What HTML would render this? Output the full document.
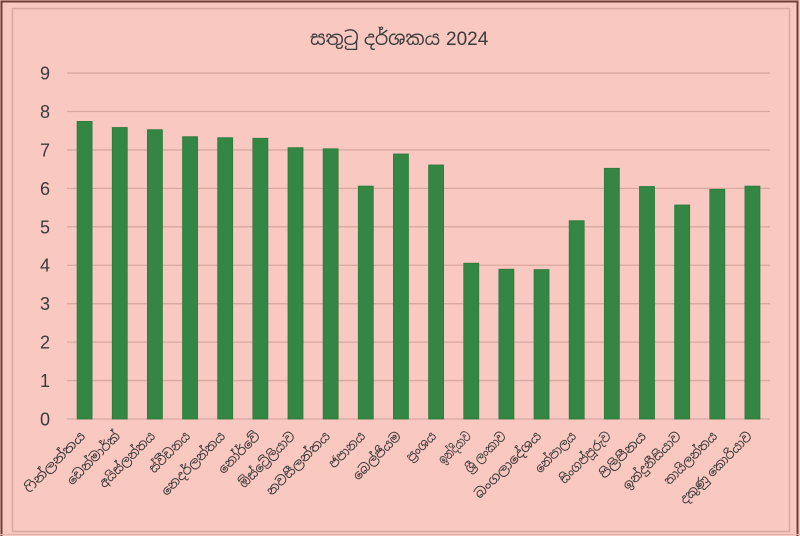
<!DOCTYPE html>
<html><head><meta charset="utf-8"><style>
html,body{margin:0;padding:0;background:#F9C8C0;}
svg{display:block;}
</style></head><body>
<svg width="800" height="536" viewBox="0 0 800 536" xmlns="http://www.w3.org/2000/svg">
<rect x="0" y="0" width="800" height="536" fill="#F9C8C0"/>
<!-- outer frame -->
<path d="M1.5 536 V1.5 H797.5 V536" fill="none" stroke="#6E4038" stroke-width="2"/>
<line x1="0" y1="534.5" x2="800" y2="534.5" stroke="#DDB0A8" stroke-width="1"/>
<!-- inner frame -->
<rect x="12.5" y="8.5" width="777" height="523" fill="none" stroke="#D8A9A1" stroke-width="1.5"/>
<!-- title -->
<text x="310" y="45" font-family="'Liberation Sans','Noto Sans Sinhala','Iskoola Pota',sans-serif" font-size="19" fill="#3A3A3A"><tspan textLength="130" lengthAdjust="spacingAndGlyphs">සතුටු දර්ශකය</tspan><tspan x="446">2024</tspan></text>
<!-- gridlines -->
<g stroke="#D9A89F" stroke-width="1.3">
<line x1="67" x2="770" y1="73.04" y2="73.04"/>
<line x1="67" x2="770" y1="111.48" y2="111.48"/>
<line x1="67" x2="770" y1="149.92" y2="149.92"/>
<line x1="67" x2="770" y1="188.36" y2="188.36"/>
<line x1="67" x2="770" y1="226.8" y2="226.8"/>
<line x1="67" x2="770" y1="265.24" y2="265.24"/>
<line x1="67" x2="770" y1="303.68" y2="303.68"/>
<line x1="67" x2="770" y1="342.12" y2="342.12"/>
<line x1="67" x2="770" y1="380.56" y2="380.56"/>
<line x1="67" x2="770" y1="419" y2="419"/>
</g>
<!-- y labels -->
<g font-family="'Liberation Sans',sans-serif" font-size="18" fill="#3A3A3A" text-anchor="end">
<text x="50" y="79.5">9</text>
<text x="50" y="118">8</text>
<text x="50" y="156.4">7</text>
<text x="50" y="194.9">6</text>
<text x="50" y="233.3">5</text>
<text x="50" y="271.7">4</text>
<text x="50" y="310.2">3</text>
<text x="50" y="348.6">2</text>
<text x="50" y="387.1">1</text>
<text x="50" y="425.5">0</text>
</g>
<!-- bars -->
<g fill="#348645" stroke="#2B7A3B" stroke-width="0.8">
<rect x="77.1" y="121.4" width="15" height="297.6"/>
<rect x="112.25" y="127.5" width="15" height="291.5"/>
<rect x="147.4" y="129.7" width="15" height="289.3"/>
<rect x="182.55" y="136.7" width="15" height="282.3"/>
<rect x="217.7" y="137.7" width="15" height="281.3"/>
<rect x="252.85" y="138.3" width="15" height="280.7"/>
<rect x="288.0" y="147.7" width="15" height="271.3"/>
<rect x="323.15" y="148.8" width="15" height="270.2"/>
<rect x="358.3" y="186.1" width="15" height="232.9"/>
<rect x="393.45" y="154.0" width="15" height="265.0"/>
<rect x="428.6" y="165.0" width="15" height="254.0"/>
<rect x="463.75" y="263.2" width="15" height="155.8"/>
<rect x="498.9" y="269.2" width="15" height="149.8"/>
<rect x="534.05" y="269.6" width="15" height="149.4"/>
<rect x="569.2" y="220.7" width="15" height="198.3"/>
<rect x="604.35" y="168.3" width="15" height="250.7"/>
<rect x="639.5" y="186.5" width="15" height="232.5"/>
<rect x="674.65" y="205.0" width="15" height="214.0"/>
<rect x="709.8" y="189.3" width="15" height="229.7"/>
<rect x="744.95" y="186.1" width="15" height="232.9"/>
</g>
<!-- x labels -->
<g font-family="'Liberation Sans','Noto Sans Sinhala','Iskoola Pota',sans-serif" font-size="13" fill="#333333" text-anchor="end">
<text transform="translate(86,437) rotate(-45)" textLength="80" lengthAdjust="spacingAndGlyphs">ෆින්ලන්තය</text>
<text transform="translate(121,437) rotate(-45)" textLength="69" lengthAdjust="spacingAndGlyphs">ඩෙන්මාර්ක්</text>
<text transform="translate(156,437) rotate(-45)" textLength="73" lengthAdjust="spacingAndGlyphs">අයිස්ලන්තය</text>
<text transform="translate(191,437) rotate(-45)" textLength="52" lengthAdjust="spacingAndGlyphs">ස්වීඩනය</text>
<text transform="translate(226,437) rotate(-45)" textLength="84" lengthAdjust="spacingAndGlyphs">නෙදර්ලන්තය</text>
<text transform="translate(261,437) rotate(-45)" textLength="53" lengthAdjust="spacingAndGlyphs">නෝර්වේ</text>
<text transform="translate(296,437) rotate(-45)" textLength="73" lengthAdjust="spacingAndGlyphs">ඕස්ට්‍රේලියාව</text>
<text transform="translate(331,437) rotate(-45)" textLength="84" lengthAdjust="spacingAndGlyphs">නවසීලන්තය</text>
<text transform="translate(366,437) rotate(-45)" textLength="45" lengthAdjust="spacingAndGlyphs">ජපානය</text>
<text transform="translate(402,437) rotate(-45)" textLength="62" lengthAdjust="spacingAndGlyphs">බෙල්ජියම</text>
<text transform="translate(437,437) rotate(-45)" textLength="36" lengthAdjust="spacingAndGlyphs">ප්‍රංශය</text>
<text transform="translate(472,437) rotate(-45)" textLength="40" lengthAdjust="spacingAndGlyphs">ඉන්දියාව</text>
<text transform="translate(507,437) rotate(-45)" textLength="52" lengthAdjust="spacingAndGlyphs">ශ්‍රී ලංකාව</text>
<text transform="translate(542,437) rotate(-45)" textLength="88" lengthAdjust="spacingAndGlyphs">බංගලාදේශය</text>
<text transform="translate(577,437) rotate(-45)" textLength="52" lengthAdjust="spacingAndGlyphs">නේපාලය</text>
<text transform="translate(612,437) rotate(-45)" textLength="67" lengthAdjust="spacingAndGlyphs">සිංගප්පූරුව</text>
<text transform="translate(647,437) rotate(-45)" textLength="60" lengthAdjust="spacingAndGlyphs">පිලිපීනය</text>
<text transform="translate(682,437) rotate(-45)" textLength="76" lengthAdjust="spacingAndGlyphs">ඉන්දුනීසියාව</text>
<text transform="translate(718,437) rotate(-45)" textLength="69" lengthAdjust="spacingAndGlyphs">තායිලන්තය</text>
<text transform="translate(753,437) rotate(-45)" textLength="96" lengthAdjust="spacingAndGlyphs">දකුණු කොරියාව</text>
</g>
</svg>
</body></html>
